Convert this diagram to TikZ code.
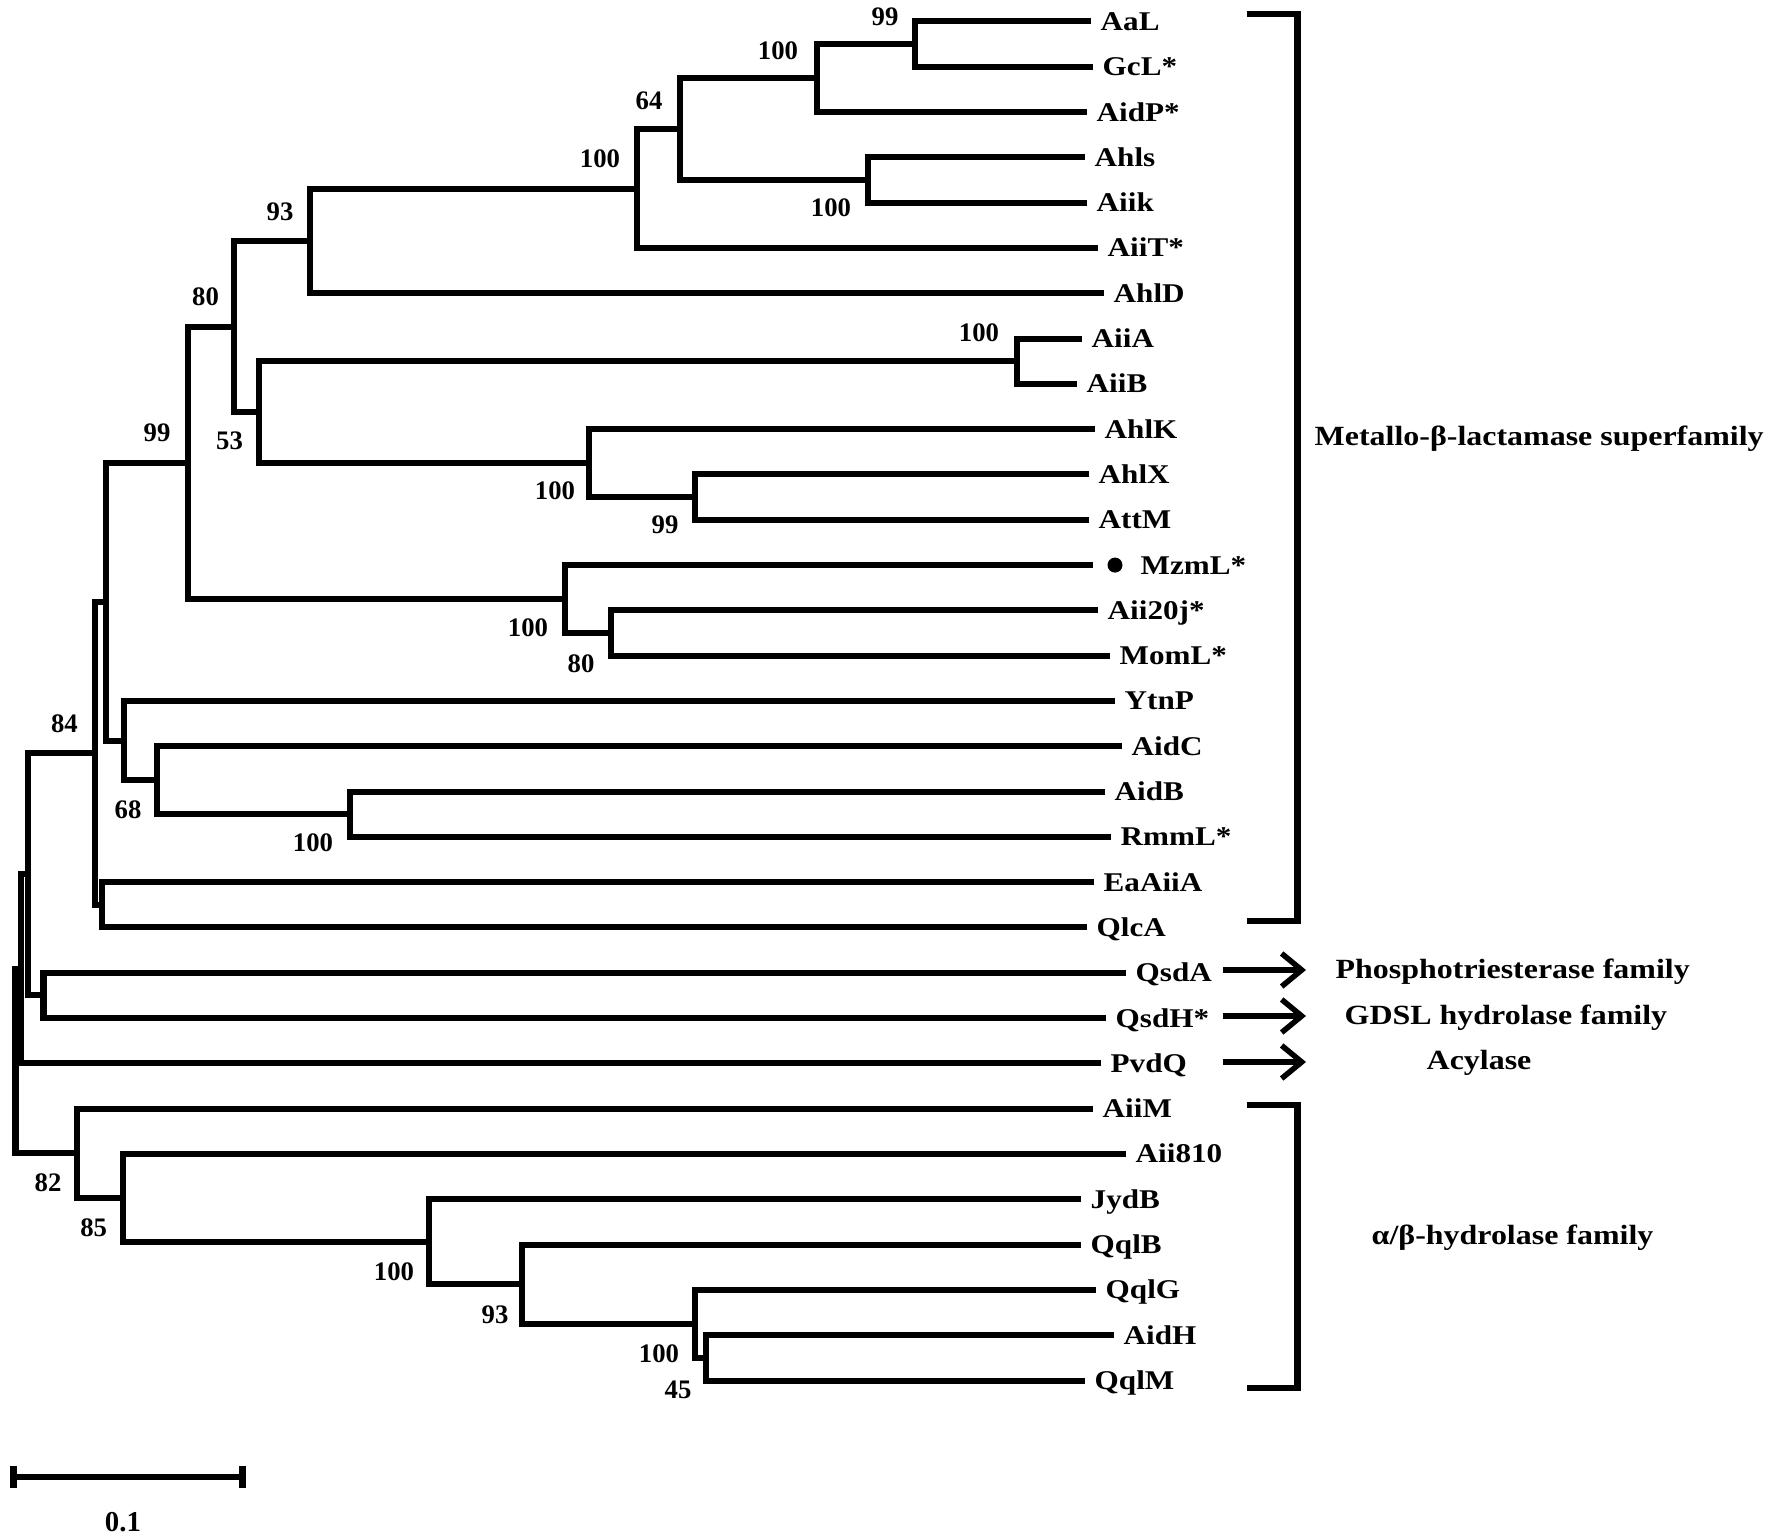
\documentclass[tikz,border=0pt]{standalone}
\usepackage{fontspec}
\setmainfont{Liberation Serif}
\newfontfamily\treefont[FakeStretch=1.15]{Liberation Serif}
\usetikzlibrary{arrows.meta}

\begin{document}
\begin{tikzpicture}[x=0.01cm, y=-0.01cm,
    br/.style={line width=0.06cm, line cap=rect, line join=miter},
    leaf/.style={anchor=west, inner xsep=0.12cm, inner ysep=0pt, text height=5.1pt, text depth=0pt, font=\treefont\fontsize{7.7pt}{9pt}\selectfont\bfseries},
    boot/.style={inner sep=0pt, font=\fontsize{7.6pt}{9pt}\selectfont\bfseries},
    fam/.style={anchor=west, inner sep=0pt, text height=5.3pt, text depth=0pt, font=\treefont\fontsize{7.9pt}{9pt}\selectfont\bfseries},
    famline/.style={line width=0.065cm, line join=miter},
    famarrow/.style={line width=0.055cm, -{Straight Barb[length=0.2cm, width=0.33cm]}},
    dot/.style={circle, fill, inner sep=0pt, minimum size=0.15cm}
  ]
  \useasboundingbox (0,0) rectangle (1772,1537);

  \node[leaf] (AaL) at (1088,21.5) {AaL};
  \node[leaf] (GcL) at (1090,66.8) {GcL*};
  \node[leaf] (AidP) at (1084,112.1) {AidP*};
  \node[leaf] (Ahls) at (1082,157.4) {Ahls};
  \node[leaf] (Aiik) at (1084,202.7) {Aiik};
  \node[leaf] (AiiT) at (1095,248) {AiiT*};
  \node[leaf] (AhlD) at (1101,293.3) {AhlD};
  \node[leaf] (AiiA) at (1079,338.6) {AiiA};
  \node[leaf] (AiiB) at (1074,383.9) {AiiB};
  \node[leaf] (AhlK) at (1092,429.2) {AhlK};
  \node[leaf] (AhlX) at (1086,474.5) {AhlX};
  \node[leaf] (AttM) at (1086,519.8) {AttM};
  \node[leaf, inner xsep=0.5cm] (MzmL) at (1090,565.1) {MzmL*};
  \node[dot] (mzdot) at (1115,565.1) {};
  \node[leaf] (Aii20j) at (1095,610.4) {Aii20j*};
  \node[leaf] (MomL) at (1107,655.7) {MomL*};
  \node[leaf] (YtnP) at (1112,701) {YtnP};
  \node[leaf] (AidC) at (1119,746.3) {AidC};
  \node[leaf] (AidB) at (1102,791.6) {AidB};
  \node[leaf] (RmmL) at (1108,836.9) {RmmL*};
  \node[leaf] (EaAiiA) at (1091,882.2) {EaAiiA};
  \node[leaf] (QlcA) at (1084,927.5) {QlcA};
  \node[leaf] (QsdA) at (1123,972.8) {QsdA};
  \node[leaf] (QsdH) at (1103,1018.1) {QsdH*};
  \node[leaf] (PvdQ) at (1098,1063.4) {PvdQ};
  \node[leaf] (AiiM) at (1090,1108.7) {AiiM};
  \node[leaf] (Aii810) at (1123,1154) {Aii810};
  \node[leaf] (JydB) at (1078,1199.3) {JydB};
  \node[leaf] (QqlB) at (1078,1244.6) {QqlB};
  \node[leaf] (QqlG) at (1093,1289.9) {QqlG};
  \node[leaf] (AidH) at (1111,1335.2) {AidH};
  \node[leaf] (QqlM) at (1082,1380.5) {QqlM};

  \coordinate (nAaL) at (915,44.15);
  \coordinate (n100t) at (816.5,78.1);
  \coordinate (nAhls) at (868,180.05);
  \coordinate (n64) at (679.5,129.1);
  \coordinate (n100m) at (637,188.55);
  \coordinate (n93) at (310,240.9);
  \coordinate (nAiiA) at (1016.5,361.25);
  \coordinate (nAhlX) at (695,497.15);
  \coordinate (nAhlK) at (589,463.2);
  \coordinate (n53) at (259,412.2);
  \coordinate (n80) at (234,326.55);
  \coordinate (nMom) at (610.7,633.05);
  \coordinate (nMzm) at (564.7,599.1);
  \coordinate (n99) at (187.5,462.8);
  \coordinate (nAidB) at (350,814.25);
  \coordinate (n68) at (157,780.3);
  \coordinate (nYtn) at (124,740.6);
  \coordinate (nA) at (106,601.7);
  \coordinate (nEa) at (101.7,904.85);
  \coordinate (n84) at (95,753.3);
  \coordinate (nQsd) at (43.5,995.45);
  \coordinate (nB) at (28.3,874.4);
  \coordinate (nC) at (21,968.9);
  \coordinate (nAid45) at (706,1357.85);
  \coordinate (nQqlG) at (694.7,1323.9);
  \coordinate (n93b) at (522,1284.25);
  \coordinate (n100c) at (429.4,1241.8);
  \coordinate (n85) at (122.7,1197.9);
  \coordinate (n82) at (77.3,1153.3);
  \coordinate (root) at (15.5,1061.1);

  \draw[br] (root) |- (nC) (root) |- (n82);
  \draw[br] (nC) |- (nB) (nC) |- (PvdQ.west);
  \draw[br] (nB) |- (n84) (nB) |- (nQsd);
  \draw[br] (nQsd) |- (QsdA.west) (nQsd) |- (QsdH.west);
  \draw[br] (n84) |- (nA) (n84) |- (nEa);
  \draw[br] (nEa) |- (EaAiiA.west) (nEa) |- (QlcA.west);
  \draw[br] (nA) |- (n99) (nA) |- (nYtn);
  \draw[br] (nYtn) |- (YtnP.west) (nYtn) |- (n68);
  \draw[br] (n68) |- (AidC.west) (n68) |- (nAidB);
  \draw[br] (nAidB) |- (AidB.west) (nAidB) |- (RmmL.west);
  \draw[br] (n99) |- (n80) (n99) |- (nMzm);
  \draw[br] (nMzm) |- (MzmL.west) (nMzm) |- (nMom);
  \draw[br] (nMom) |- (Aii20j.west) (nMom) |- (MomL.west);
  \draw[br] (n80) |- (n93) (n80) |- (n53);
  \draw[br] (n53) |- (nAiiA) (n53) |- (nAhlK);
  \draw[br] (nAiiA) |- (AiiA.west) (nAiiA) |- (AiiB.west);
  \draw[br] (nAhlK) |- (AhlK.west) (nAhlK) |- (nAhlX);
  \draw[br] (nAhlX) |- (AhlX.west) (nAhlX) |- (AttM.west);
  \draw[br] (n93) |- (n100m) (n93) |- (AhlD.west);
  \draw[br] (n100m) |- (n64) (n100m) |- (AiiT.west);
  \draw[br] (n64) |- (n100t) (n64) |- (nAhls);
  \draw[br] (nAhls) |- (Ahls.west) (nAhls) |- (Aiik.west);
  \draw[br] (n100t) |- (nAaL) (n100t) |- (AidP.west);
  \draw[br] (nAaL) |- (AaL.west) (nAaL) |- (GcL.west);
  \draw[br] (n82) |- (AiiM.west) (n82) |- (n85);
  \draw[br] (n85) |- (Aii810.west) (n85) |- (n100c);
  \draw[br] (n100c) |- (JydB.west) (n100c) |- (n93b);
  \draw[br] (n93b) |- (QqlB.west) (n93b) |- (nQqlG);
  \draw[br] (nQqlG) |- (QqlG.west) (nQqlG) |- (nAid45);
  \draw[br] (nAid45) |- (AidH.west) (nAid45) |- (QqlM.west);

  \node[boot] (b99a) at (885,17) {99};
  \node[boot] (b100a) at (778,51) {100};
  \node[boot] (b64) at (649,101) {64};
  \node[boot] (b100b) at (600,159) {100};
  \node[boot] (b100c) at (831,208) {100};
  \node[boot] (b93) at (280,212) {93};
  \node[boot] (b80) at (205.5,297) {80};
  \node[boot] (b100d) at (979,333) {100};
  \node[boot] (b99b) at (157,433) {99};
  \node[boot] (b53) at (229.5,440.5) {53};
  \node[boot] (b100e) at (555,491) {100};
  \node[boot] (b99c) at (665,525) {99};
  \node[boot] (b100f) at (528,628) {100};
  \node[boot] (b80b) at (581,664) {80};
  \node[boot] (b84) at (64.4,724) {84};
  \node[boot] (b68) at (128,810) {68};
  \node[boot] (b100g) at (313,843) {100};
  \node[boot] (b82) at (48,1183) {82};
  \node[boot] (b85) at (93.7,1228) {85};
  \node[boot] (b100h) at (394,1272) {100};
  \node[boot] (b93b) at (495,1315) {93};
  \node[boot] (b100i) at (659,1354) {100};
  \node[boot] (b45) at (678,1390) {45};

  \node[fam] (metallo) at (1314,436) {Metallo-β-lactamase superfamily};
  \node[fam] (phos) at (1335,969) {Phosphotriesterase family};
  \node[fam] (gdsl) at (1344,1015) {GDSL hydrolase family};
  \node[fam] (acyl) at (1426,1060) {Acylase};
  \node[fam] (hydro) at (1371,1235) {α/β-hydrolase family};

  \coordinate (mtop) at (1246.5,14);
  \coordinate (mbot) at (1246.5,921);
  \draw[famline] (mtop) -| (1297.5,467) |- (mbot);
  \coordinate (htop) at (1246.5,1105);
  \coordinate (hbot) at (1246.5,1388);
  \draw[famline] (htop) -| (1297.5,1246) |- (hbot);

  \coordinate (sQsdA) at (1223,970);
  \coordinate (eQsdA) at (1306,970);
  \coordinate (sQsdH) at (1223,1016);
  \coordinate (eQsdH) at (1306,1016);
  \coordinate (sPvdQ) at (1223,1062);
  \coordinate (ePvdQ) at (1306,1062);
  \draw[famarrow] (sQsdA) -- (eQsdA);
  \draw[famarrow] (sQsdH) -- (eQsdH);
  \draw[famarrow] (sPvdQ) -- (ePvdQ);

  \coordinate (sbL) at (10,1477);
  \coordinate (sbR) at (245.7,1477);
  \draw[line width=0.065cm, {Bar[width=0.21cm]}-{Bar[width=0.21cm]}] (sbL) -- (sbR);
  \node[boot, font=\fontsize{8.2pt}{10pt}\selectfont\bfseries] (sbtext) at (123,1522) {0.1};
\end{tikzpicture}
\end{document}
